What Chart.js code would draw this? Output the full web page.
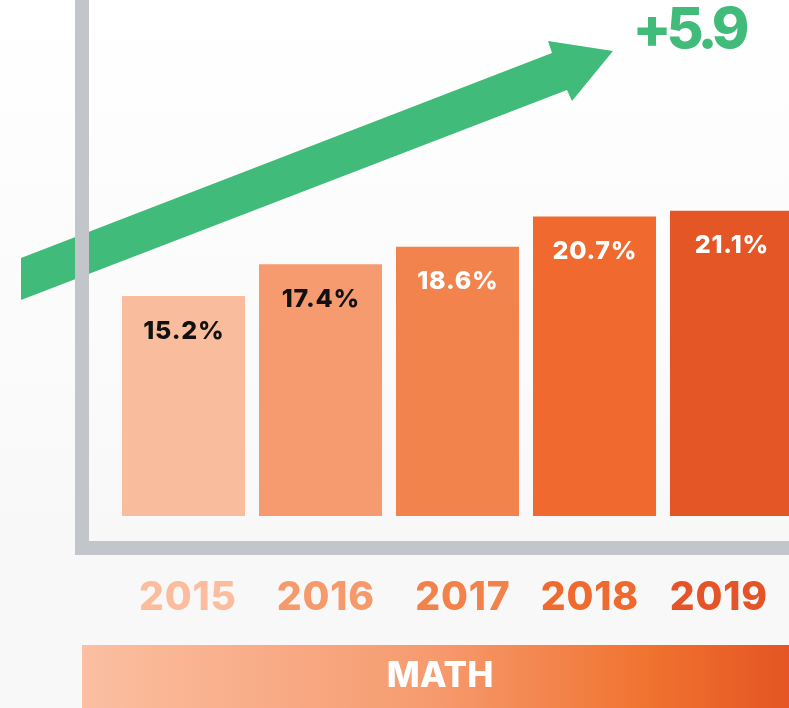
<!DOCTYPE html>
<html>
<head>
<meta charset="utf-8">
<title>Math proficiency 2015-2019</title>
<script src="https://cdn.jsdelivr.net/npm/chart.js@4.4.1/dist/chart.umd.min.js"></script>
<style>
  html, body { margin: 0; padding: 0; background: #f8f8f8; overflow: hidden; }
  #wrap { position: absolute; left: 0; top: 0; width: 820px; height: 708px; }
</style>
</head>
<body>
<div id="wrap"><canvas id="mathChart" width="820" height="708"></canvas></div>
<script>
/* ===== data ===== */
const years = ['2015', '2016', '2017', '2018', '2019'];
const mathPct = [15.2, 17.4, 18.6, 20.7, 21.1];
const barColors = ['#f9bc9d', '#f69b6f', '#f2834d', '#f0692e', '#e55627'];
const yearColors = ['#fbbd9e', '#f69a6c', '#f2824a', '#ef6a2e', '#e45428'];
const valueColors = ['#111111', '#111111', '#ffffff', '#ffffff', '#ffffff'];
const gainLabel = '+5.9';
const subjectLabel = 'MATH';

const GREEN = '#41bb79';
const GREY = '#c2c5c9';
const FONT = 'Inter, Lato, "DejaVu Sans", sans-serif';
// year labels in the original are not exactly under their bars
const YEAR_NUDGE = [4, 5, 5, -5, -13];

// centred text that also works with letter spacing
function centreText(ctx, txt, cx, cy, spacing) {
  ctx.letterSpacing = spacing + 'px';
  const w = ctx.measureText(txt).width - spacing;
  ctx.textAlign = 'left';
  ctx.fillText(txt, cx - w / 2, cy);
  ctx.letterSpacing = '0px';
}

const decor = {
  id: 'decor',
  beforeDraw(chart) {
    const ctx = chart.ctx;
    const w = chart.width, h = chart.height;
    ctx.save();
    // soft white to grey backdrop
    const bg = ctx.createLinearGradient(0, 0, 0, h);
    bg.addColorStop(0, '#ffffff');
    bg.addColorStop(0.45, '#fbfbfb');
    bg.addColorStop(0.75, '#f8f8f8');
    bg.addColorStop(1, '#f8f8f8');
    ctx.fillStyle = bg;
    ctx.fillRect(0, 0, w, h);

    // trend arrow
    ctx.fillStyle = GREEN;
    ctx.beginPath();
    ctx.moveTo(21, 258);
    ctx.lineTo(552, 53);
    ctx.lineTo(548, 41);
    ctx.lineTo(613, 51);
    ctx.lineTo(572, 101);
    ctx.lineTo(567, 90);
    ctx.lineTo(21, 300);
    ctx.closePath();
    ctx.fill();

    // frame lines
    ctx.fillStyle = GREY;
    ctx.fillRect(75, 0, 14, 555);
    ctx.fillRect(75, 541, w - 75, 14);
    ctx.restore();
  },
  afterDatasetsDraw(chart) {
    const ctx = chart.ctx;
    const meta = chart.getDatasetMeta(0);
    const x = chart.scales.x;
    ctx.save();
    ctx.textBaseline = 'middle';

    // values inside bars
    ctx.font = '800 25px ' + FONT;
    meta.data.forEach((bar, i) => {
      ctx.fillStyle = valueColors[i];
      centreText(ctx, mathPct[i].toFixed(1) + '%', bar.x, bar.y + 35, 0.8);
    });

    // year labels
    ctx.font = '800 39px ' + FONT;
    years.forEach((yr, i) => {
      ctx.fillStyle = yearColors[i];
      centreText(ctx, yr, x.getPixelForValue(i) + YEAR_NUDGE[i], 598, 0.8);
    });

    // subject band
    const band = ctx.createLinearGradient(82, 0, 789, 0);
    band.addColorStop(0, '#fbbfa1');
    band.addColorStop(0.5, '#f69a6e');
    band.addColorStop(0.8, '#f0732f');
    band.addColorStop(1, '#e45523');
    ctx.fillStyle = band;
    ctx.fillRect(82, 645, 789 - 82, 63);
    ctx.fillStyle = '#ffffff';
    ctx.font = '800 35px ' + FONT;
    centreText(ctx, subjectLabel, 440, 676, 0);

    // gain
    ctx.fillStyle = GREEN;
    ctx.font = '800 57px ' + FONT;
    centreText(ctx, gainLabel, 691, 31, -5);
    ctx.restore();
  }
};

new Chart(document.getElementById('mathChart').getContext('2d'), {
  type: 'bar',
  data: {
    labels: years,
    datasets: [{
      data: mathPct,
      backgroundColor: barColors,
      borderWidth: 0,
      categoryPercentage: 1,
      barPercentage: 0.898
    }]
  },
  options: {
    responsive: false,
    animation: false,
    layout: { padding: { left: 115, right: 20, top: 0, bottom: 192 } },
    scales: {
      x: { display: false },
      y: { display: false, min: 0, max: 35.66 }
    },
    plugins: {
      legend: { display: false },
      tooltip: { enabled: false }
    }
  },
  plugins: [decor]
});
</script>
</body>
</html>
